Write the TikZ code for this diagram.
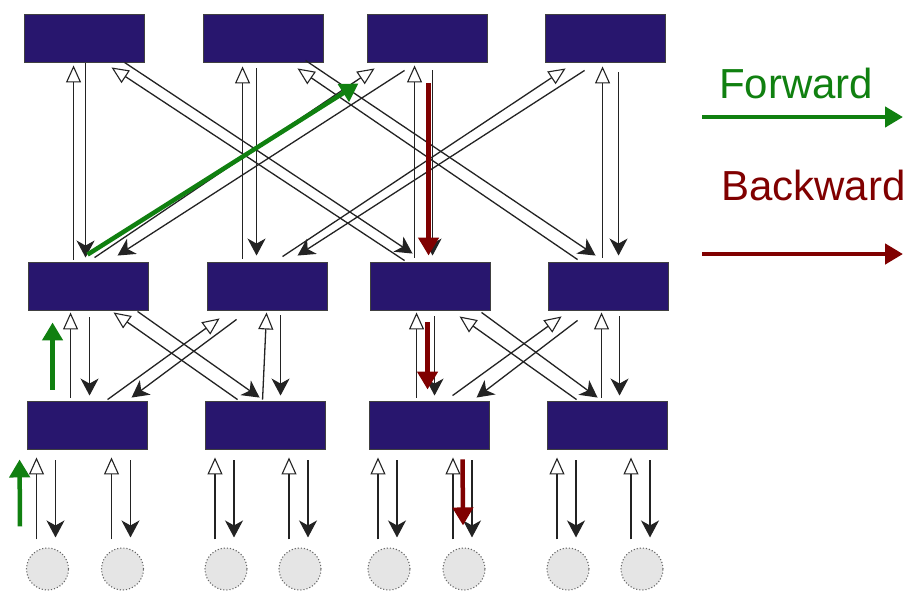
\documentclass[tikz,border=0pt]{standalone}
\usepackage{fontspec}
\setmainfont{Liberation Sans}
\usetikzlibrary{arrows.meta,calc}
\definecolor{boxblue}{RGB}{40,22,110}
\definecolor{fwdgreen}{RGB}{16,128,16}
\definecolor{bwdred}{RGB}{128,0,0}
\definecolor{linegray}{RGB}{35,35,35}
\begin{document}
\begin{tikzpicture}[x=1pt,y=-1pt,
  unit/.style={draw=black!75,line width=0.9pt,fill=boxblue,minimum width=120pt,minimum height=48pt,inner sep=0pt},
  leaf/.style={circle,draw=black!60,dotted,line width=1.1pt,fill=black!10,minimum size=42pt,inner sep=0pt},
  upwire/.style={draw=linegray,line width=1.3pt,-{Triangle[length=17pt,width=15pt,fill=white,line width=1.1pt]}},
  downwire/.style={draw=linegray,line width=1.3pt,-{Stealth[length=17pt,width=18pt,inset=5pt]}},
  fwd/.style={draw=fwdgreen,line width=4.5pt,-{Triangle[length=18pt,width=20pt]}},
  bwd/.style={draw=bwdred,line width=4.5pt,-{Triangle[length=18pt,width=20pt]}},
  lbl/.style={anchor=base west,inner sep=0pt,font=\fontsize{42}{46}\selectfont}]
\useasboundingbox[fill=white] (0,0) rectangle (904,592);

% top layer
\node[unit] (T1) at (84,38) {};
\node[unit] (T2) at (263,38) {};
\node[unit] (T3) at (427,38) {};
\node[unit] (T4) at (605,38) {};
% middle layer
\node[unit] (M1) at (88,286) {};
\node[unit] (M2) at (267,286) {};
\node[unit] (M3) at (430,286) {};
\node[unit] (M4) at (608,286) {};
% bottom layer
\node[unit] (B1) at (87,425) {};
\node[unit] (B2) at (265,425) {};
\node[unit] (B3) at (429,425) {};
\node[unit] (B4) at (607,425) {};
% leaves
\foreach \n/\x in {C1/47.5,C2/122.5,C3/226,C4/300,C5/389,C6/464,C7/568,C8/642}
  \node[leaf] (\n) at (\x,569) {};

% top <-> middle
\draw[upwire]   ($(M1.north west)+(46,-2)$) -- ($(T1.south west)+(50,3)$);
\draw[downwire] ($(T1.south west)+(62,1)$)  -- ($(M1.north west)+(58,-4)$);
\draw[upwire]   ($(M3.north west)+(35,-1)$) -- ($(T1.south west)+(88,5)$);
\draw[downwire] ($(T1.south west)+(101,0)$) -- ($(M3.north west)+(43,-8)$);
\draw[upwire]   ($(M2.north west)+(36,-3)$) -- ($(T2.south west)+(40,4)$);
\draw[downwire] ($(T2.south west)+(54,6)$)  -- ($(M2.north west)+(50,-6)$);
\draw[upwire]   ($(M4.north west)+(30,-2)$) -- ($(T2.south west)+(95,6)$);
\draw[downwire] ($(T2.south west)+(103,-2)$) -- ($(M4.north west)+(48,-6)$);
\draw[upwire]   ($(M1.north west)+(67,-4)$) -- ($(T3.south west)+(8,6)$);
\draw[downwire] ($(T3.south west)+(38,8)$)  -- ($(M1.north west)+(90,-6)$);
\draw[upwire]   ($(M3.north west)+(45,-4)$) -- ($(T3.south west)+(48,3)$);
\draw[downwire] ($(T3.south west)+(66,8)$)  -- ($(M3.north west)+(63,-6)$);
\draw[upwire]   ($(M2.north west)+(76,-5)$) -- ($(T4.south west)+(21,6)$);
\draw[downwire] ($(T4.south west)+(40,8)$)  -- ($(M2.north west)+(91,-6)$);
\draw[upwire]   ($(M4.north west)+(55,-4)$) -- ($(T4.south west)+(58,4)$);
\draw[downwire] ($(T4.south west)+(74,10)$) -- ($(M4.north west)+(71,-6)$);

% middle <-> bottom
\draw[upwire]   ($(B1.north west)+(44,-3)$) -- ($(M1.south west)+(43,2)$);
\draw[downwire] ($(M1.south west)+(62,7)$)  -- ($(B1.north west)+(63,-5)$);
\draw[upwire]   ($(B2.north west)+(33,-1)$) -- ($(M1.south west)+(86,2)$);
\draw[downwire] ($(M1.south west)+(110,1)$) -- ($(B2.north west)+(55,-3)$);
\draw[upwire]   ($(B1.north west)+(81,-1)$) -- ($(M2.south west)+(13,8)$);
\draw[downwire] ($(M2.south west)+(30,9)$)  -- ($(B1.north west)+(105,-3)$);
\draw[upwire]   ($(B2.north west)+(58,-1)$) -- ($(M2.south west)+(60,2)$);
\draw[downwire] ($(M2.south west)+(74,5)$)  -- ($(B2.north west)+(76,-5)$);
\draw[upwire]   ($(B4.north west)+(30,-1)$) -- ($(M3.south west)+(90,6)$);
\draw[downwire] ($(M3.south west)+(112,2)$) -- ($(B4.north west)+(51,-3)$);
\draw[upwire]   ($(B3.north west)+(84,-5)$) -- ($(M4.south west)+(14,6)$);
\draw[downwire] ($(M4.south west)+(30,10)$) -- ($(B3.north west)+(108,-3)$);
\draw[upwire]   ($(B3.north west)+(48,-3)$) -- ($(M3.south west)+(47,2)$);
\draw[downwire] ($(M3.south west)+(65,6)$)  -- ($(B3.north west)+(66,-5)$);
\draw[upwire]   ($(B4.north west)+(55,-3)$) -- ($(M4.south west)+(54,2)$);
\draw[downwire] ($(M4.south west)+(72,6)$)  -- ($(B4.north west)+(73,-5)$);

% bottom <-> leaves
\foreach \b/\c in {B1/C1,B1/C2,B2/C3,B2/C4,B3/C5,B3/C6,B4/C7,B4/C8}{
  \draw[upwire]   ($(\c.north)+(-11,-8)$) -- ($(\b.south -| \c.north)+(-11,8)$);
  \draw[downwire] ($(\b.south -| \c.north)+(8,11)$) -- ($(\c.north)+(8,-10)$);
}

% highlighted forward path
\draw[fwd] ($(C1.north)+(-27.5,-21)$) -- ($(B1.south west)+(-7,10)$);
\draw[fwd] ($(B1.north west)+(26,-11)$) -- ($(M1.south west)+(25,12)$);
\draw[fwd] ($(M1.north west)+(60,-7)$) -- ($(T3.south west)+(-8,21)$);
% highlighted backward path
\draw[bwd] ($(T3.south west)+(62,21)$) -- ($(M3.north west)+(59,-6)$);
\draw[bwd] ($(M3.south west)+(58,12)$) -- ($(B3.north west)+(59,-11)$);
\draw[bwd] ($(B3.south west)+(94,10)$) -- ($(C6.north)+(-1,-22)$);

% legend
\node[lbl,text=fwdgreen] (lf) at (719,98) {Forward};
\node[lbl,text=bwdred] (lb) at (721,200) {Backward};
\coordinate (lfs) at (702,117);
\coordinate (lfe) at (903,117);
\coordinate (lbs) at (702,254);
\coordinate (lbe) at (903,254);
\draw[fwd] (lfs) -- (lfe);
\draw[bwd] (lbs) -- (lbe);
\end{tikzpicture}
\end{document}
